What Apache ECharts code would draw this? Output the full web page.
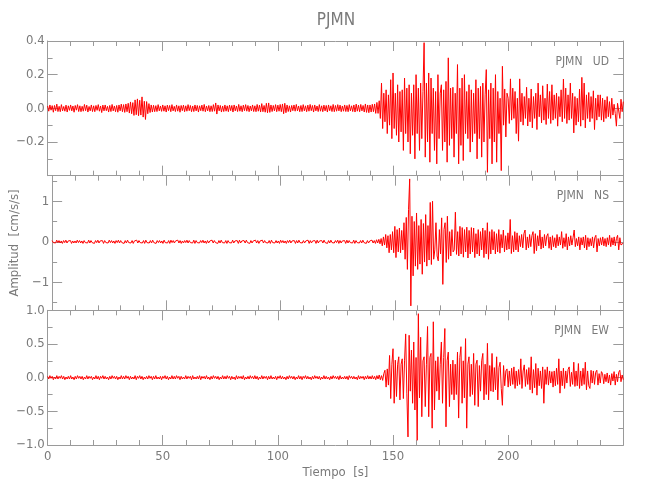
<!DOCTYPE html>
<html>
<head>
<meta charset="utf-8">
<script src="https://cdn.jsdelivr.net/npm/echarts@6/dist/echarts.min.js"></script>
<style>html,body{margin:0;padding:0;background:#fff}#c{width:650px;height:500px}</style>
</head>
<body>
<div id="c"></div>
<script>
const SAMPLE_INTERVAL_S = 0.5;

// UD component, thousandths of cm/s/s (one row = 10 s)
const udThousandths = [
14,-17,20,-11,16,-23,17,-14,25,-19,12,-20,22,-15,11,-17,19,-22,15,-12,
20,-15,14,-23,17,-11,22,-19,15,-20,12,-17,23,-14,19,-22,11,-15,20,-19,
15,-20,17,-12,22,-17,14,-25,19,-15,20,-14,12,-22,17,-19,23,-15,14,-20,
17,-23,20,-15,25,-20,22,-24,26,-20,30,-28,38,-32,34,-42,50,-38,56,-44,
48,-40,68,-52,42,-66,40,-32,28,-25,20,-22,18,-20,16,-19,22,-15,14,-18,
20,-17,15,-22,19,-14,17,-20,22,-15,12,-19,20,-17,15,-23,17,-14,19,-20,
15,-17,22,-14,17,-20,14,-19,20,-15,17,-22,15,-14,19,-17,23,-20,14,-15,
17,-20,15,-19,22,-17,32,-34,20,-15,17,-22,14,-19,20,-17,15,-20,19,-14,
17,-22,20,-15,14,-19,23,-17,15,-20,19,-14,22,-17,17,-20,14,-15,20,-19,
15,-20,23,-17,19,-22,28,-20,17,-23,30,-26,32,-24,20,-19,17,-15,22,-20,
19,-17,23,-20,26,-32,30,-26,20,-19,15,-22,17,-14,20,-17,23,-15,14,-20,
17,-19,22,-15,15,-20,19,-17,23,-14,17,-22,20,-15,14,-19,22,-17,15,-20,
19,-15,17,-22,20,-14,15,-19,23,-20,17,-17,22,-15,19,-20,14,-17,20,-19,
17,-20,22,-15,15,-19,20,-22,25,-17,19,-20,23,-15,17,-22,26,-24,20,-26,
20,-22,24,-20,26,-30,35,-30,45,-60,150,-120,90,-80,110,-150,80,-100,170,-180,
210,-120,90,-160,140,-200,100,-140,110,-250,180,-150,120,-200,140,-270,90,-160,140,-300,
200,-150,120,-250,150,-180,100,390,-290,150,-200,210,-320,180,-150,120,-250,100,-330,200,
-180,90,140,-250,110,-200,160,-320,300,-220,120,-180,125,-290,90,-150,260,-330,120,-220,
180,-310,200,-150,100,-180,140,-260,110,-200,90,-150,170,-300,120,-180,130,-290,150,-200,
80,230,-380,110,-180,150,-330,120,-200,200,-320,100,-150,60,-370,250,-100,115,-170,90,
60,-90,175,-70,120,-60,100,-150,60,-195,175,-80,90,-100,70,-60,125,-105,60,-80,
115,-116,70,-60,90,-126,150,-50,80,-86,134,-70,60,-96,144,-60,100,-90,140,-70,
80,-60,90,-106,70,-50,110,-80,174,-60,120,-90,80,-70,150,-60,90,-146,70,-100,
60,-80,114,-106,184,-70,150,-116,80,-60,94,-80,70,-60,104,-126,60,-70,80,-50,
80,-70,60,-80,50,-60,70,-50,40,-60,60,-40,24,-30,-106,30,40,-60,54,-20,
40
];

// NS component, hundredths of cm/s/s (one row = 10 s)
const nsHundredths = [
3,-2,2,-3,4,-2,3,-3,2,-4,3,-2,4,-3,2,-2,3,-4,2,-3,
2,-3,4,-2,3,-3,2,-4,3,-2,2,-3,4,-3,3,-2,2,-4,3,-2,
4,-3,2,-2,3,-4,3,-2,2,-3,4,-2,3,-3,2,-4,3,-2,4,-3,
3,-2,2,-4,3,-3,4,-2,2,-3,3,-4,2,-2,4,-3,3,-2,2,-3,
3,-4,4,-2,2,-3,3,-3,4,-2,2,-4,3,-2,3,-3,2,-4,4,-2,
2,-3,3,-4,4,-2,3,-3,2,-2,4,-3,3,-4,2,-3,3,-2,4,-3,
3,-2,2,-3,4,-4,3,-2,2,-3,3,-2,4,-3,2,-4,3,-3,2,-2,
4,-3,3,-2,2,-4,3,-3,4,-2,2,-3,3,-4,3,-2,2,-3,4,-3,
2,-2,3,-4,4,-3,2,-2,3,-3,4,-2,2,-4,3,-3,2,-2,4,-3,
3,-4,2,-2,4,-3,3,-2,2,-3,3,-4,4,-2,2,-3,3,-3,2,-4,
4,-2,3,-3,2,-4,3,-2,4,-3,2,-2,3,-4,3,-3,4,-2,2,-3,
3,-3,2,-2,4,-4,3,-3,2,-2,3,-4,4,-3,2,-2,3,-3,4,-2,
2,-4,3,-3,4,-2,2,-3,3,-2,4,-4,3,-3,2,-2,3,-4,4,-3,
3,-2,2,-3,4,-4,3,-2,2,-3,3,-3,4,-2,2,-4,3,-3,2,-2,
4,-3,3,-4,5,-3,6,-5,8,-10,12,-8,18,-15,15,-27,18,-20,25,-27,
38,-39,30,-25,34,-27,28,-20,47,-43,60,-68,79,155,-158,63,-84,50,-60,71,
-68,40,-55,55,-80,45,-50,67,-60,40,-45,97,-56,100,-43,-20,47,-35,-47,30,
-30,59,-105,30,47,-51,63,-43,25,-35,30,-25,-20,73,-31,25,-35,38,-30,35,
-38,30,-25,36,-40,28,-30,35,-25,34,-39,20,-30,30,-35,25,-20,34,-39,28,
-30,47,-43,25,-30,30,-20,25,-30,20,-25,30,-28,18,-15,29,-25,15,-20,22,
-18,55,-29,15,-25,25,-20,22,-25,15,-12,18,-15,20,29,-20,12,-15,18,-12,
15,25,-29,20,-22,15,-10,29,-18,12,-15,18,-10,14,20,-16,12,-20,15,-12,
10,-15,18,-10,12,-8,25,-16,10,-12,20,-20,12,-10,15,-8,10,29,-12,8,
-10,12,-20,10,-8,12,-15,16,-20,10,-12,8,-10,12,-15,10,16,-25,8,-10,
10,-8,12,-10,8,-12,10,-8,16,-12,10,-8,12,-10,8,16,-20,10,-8,-5,
-3
];

// EW component, hundredths of cm/s/s (one row = 10 s)
const ewHundredths = [
2,-2,3,-1,2,-3,1,-2,3,-2,2,-1,3,-2,2,-3,1,-2,2,-2,
3,-2,1,-3,2,-2,3,-1,2,-2,2,-3,1,-2,3,-2,2,-1,2,-3,
1,-2,3,-2,2,-3,2,-1,3,-2,2,-2,1,-3,2,-2,3,-1,2,-2,
2,-3,1,-2,3,-2,2,-2,3,-1,2,-3,2,-2,1,-2,3,-3,2,-1,
3,-2,2,-3,1,-2,2,-2,3,-1,2,-3,2,-2,3,-2,1,-2,2,-3,
2,-1,3,-2,2,-3,1,-2,3,-2,2,-2,3,-1,2,-3,2,-2,1,-2,
3,-2,2,-1,2,-3,3,-2,1,-2,2,-2,3,-3,2,-1,2,-2,3,-2,
1,-3,2,-2,3,-1,2,-2,2,-3,1,-2,3,-2,2,-2,3,-1,2,-3,
2,-2,1,-3,3,-2,2,-1,2,-2,3,-3,1,-2,2,-2,3,-1,2,-2,
3,-2,2,-3,1,-2,3,-2,2,-1,2,-3,2,-2,3,-2,1,-2,2,-3,
2,-1,3,-2,2,-2,1,-3,2,-2,3,-1,2,-2,2,-3,1,-2,3,-2,
2,-3,2,-1,3,-2,2,-2,1,-3,2,-2,3,-1,2,-2,2,-3,1,-2,
3,-2,2,-2,1,-3,2,-2,3,-1,2,-2,2,-3,3,-2,1,-2,2,-2,
2,-3,3,-1,2,-2,2,-2,1,-3,3,-2,2,-1,2,-3,2,-2,3,-2,
2,-2,3,-2,2,-3,3,-2,4,-3,3,-4,6,11,-14,13,-11,33,-31,20,
43,-38,26,-28,20,31,-33,20,28,-31,25,65,-23,-88,63,-20,41,-38,53,-48,
30,-93,95,-30,60,-58,25,31,-43,20,76,-58,30,36,-75,83,-48,25,-20,31,
-33,20,53,-38,30,73,-73,25,38,-43,20,-25,26,-33,20,-25,38,-60,30,46,
-38,25,-30,58,-75,20,31,-28,20,-25,36,-41,20,26,-43,18,-20,25,36,-33,
20,-25,51,-33,18,-20,36,-21,15,-18,31,-33,15,23,-16,-41,18,-12,10,13,
-14,10,-12,14,-10,16,-16,10,-12,12,-10,28,-16,10,19,-13,12,-10,15,-18,
31,-23,12,-15,21,-26,14,-12,10,-16,16,-38,12,-10,16,-11,10,-8,9,-14,
10,-12,14,-10,28,-23,10,-12,14,-16,10,-8,12,16,-13,8,-10,23,-13,10,
-12,21,-16,10,-12,14,-10,23,-18,10,-12,-16,11,-8,10,-10,8,11,-11,6,
-8,9,6,-9,5,-6,7,-8,4,-11,6,-5,9,-11,5,-6,8,11,-6,4,
-3
];

// Axis ticks and labels
const timeRange = [0, 250];
const timeTickLabelValues = [0, 50, 100, 150, 200];
const udRange = [-0.4, 0.4];
const udMajorTicks = [-0.4, -0.2, 0, 0.2, 0.4];
const udMinorTicks = [-0.3, -0.1, 0.1, 0.3];
const udLabelValues = [-0.2, 0, 0.2, 0.4];
const udLabelTexts = ['\u22120.2', '0.0', '0.2', '0.4'];
const nsRange = [-1.69, 1.63];
const nsMajorTicks = [-1, 0, 1];
const nsMinorTicks = [-1.5, -0.5, 0.5, 1.5];
const nsLabelValues = [-1, 0, 1];
const nsLabelTexts = ['\u22121', '0', '1'];
const ewRange = [-1, 1];
const ewMajorTicks = [-1, -0.5, 0, 0.5, 1];
const ewMinorTicks = [-0.75, -0.25, 0.25, 0.75];
const ewLabelValues = [-1, -0.5, 0, 0.5, 1];
const ewLabelTexts = ['\u22121.0', '\u22120.5', '0.0', '0.5', '1.0'];

const stationTitle = 'PJMN';
const panelNames = ['PJMN   UD', 'PJMN   NS', 'PJMN   EW'];
const xAxisTitle = 'Tiempo  [s]';
const yAxisTitle = 'Amplitud  [cm/s/s]';

const FONT = "'Liberation Sans Narrow','DejaVu Sans Condensed','Noto Sans',sans-serif";
const AXIS_COLOR = '#9a9a9a';
const TEXT_COLOR = '#7a7a7a';
const TRACE_COLOR = '#ff0000';

const panels = [
  {data: udThousandths, scale: 0.001, range: udRange, major: udMajorTicks, minor: udMinorTicks, lv: udLabelValues, lt: udLabelTexts},
  {data: nsHundredths, scale: 0.01, range: nsRange, major: nsMajorTicks, minor: nsMinorTicks, lv: nsLabelValues, lt: nsLabelTexts},
  {data: ewHundredths, scale: 0.01, range: ewRange, major: ewMajorTicks, minor: ewMinorTicks, lv: ewLabelValues, lt: ewLabelTexts}
];

const PLOT_LEFT = 47.6, PLOT_WIDTH = 575.7, PLOT_TOP = 41, PANEL_H = 134.67;

const grids = [], xAxes = [], yAxes = [], series = [];
panels.forEach((p, g) => {
  grids.push({left: PLOT_LEFT, width: PLOT_WIDTH, top: PLOT_TOP + g * PANEL_H, height: PANEL_H, containLabel: false});
  ['bottom', 'top'].forEach(pos => {
    const showLabels = (g === 2 && pos === 'bottom');
    xAxes.push({
      type: 'value', gridIndex: g, position: pos, min: timeRange[0], max: timeRange[1], interval: 50,
      axisLine: {show: true, onZero: false, lineStyle: {color: AXIS_COLOR, width: 1}},
      axisTick: {show: true, inside: true, length: 10, lineStyle: {color: AXIS_COLOR, width: 1}},
      minorTick: {show: true, splitNumber: 5, length: 5, lineStyle: {color: AXIS_COLOR, width: 1}},
      splitLine: {show: false}, minorSplitLine: {show: false},
      axisLabel: showLabels ? {show: true, customValues: timeTickLabelValues, margin: 5, color: TEXT_COLOR, fontFamily: FONT, fontSize: 13} : {show: false},
      name: showLabels ? xAxisTitle : '', nameLocation: 'middle', nameGap: 21,
      nameTextStyle: {color: TEXT_COLOR, fontFamily: FONT, fontSize: 13}
    });
  });
  const fmt = v => { const i = p.lv.findIndex(x => Math.abs(x - v) < 1e-9); return i >= 0 ? p.lt[i] : ''; };
  ['left', 'right'].forEach(pos => {
    const isLeft = pos === 'left';
    yAxes.push({
      type: 'value', gridIndex: g, position: pos, min: p.range[0], max: p.range[1],
      axisLine: {show: true, onZero: false, lineStyle: {color: AXIS_COLOR, width: 1}},
      axisTick: {show: true, inside: true, length: 10, customValues: p.major, lineStyle: {color: AXIS_COLOR, width: 1}},
      splitLine: {show: false},
      axisLabel: isLeft ? {show: true, customValues: p.lv, formatter: fmt, margin: 3, color: TEXT_COLOR, fontFamily: FONT, fontSize: 13, showMinLabel: true, showMaxLabel: true} : {show: false},
      name: (isLeft && g === 1) ? yAxisTitle : '', nameLocation: 'middle', nameGap: 27,
      nameTextStyle: {color: TEXT_COLOR, fontFamily: FONT, fontSize: 13}
    });
  });
  ['left', 'right'].forEach(pos => {
    yAxes.push({
      type: 'value', gridIndex: g, position: pos, min: p.range[0], max: p.range[1],
      axisLine: {show: false, onZero: false},
      axisTick: {show: true, inside: true, length: 5, customValues: p.minor, lineStyle: {color: AXIS_COLOR, width: 1}},
      splitLine: {show: false}, axisLabel: {show: false}
    });
  });
  series.push({
    type: 'line', xAxisIndex: g * 2, yAxisIndex: g * 4,
    data: p.data.map((v, i) => [i * SAMPLE_INTERVAL_S, v * p.scale]),
    showSymbol: false, symbol: 'none', silent: true, clip: true,
    lineStyle: {color: TRACE_COLOR, width: 1}, itemStyle: {color: TRACE_COLOR}
  });
});

const chart = echarts.init(document.getElementById('c'), null, {renderer: 'canvas'});
chart.setOption({
  backgroundColor: '#ffffff',
  animation: false,
  title: [
    {text: stationTitle, left: 336, top: 12, textAlign: 'center', padding: 0,
     textStyle: {fontFamily: FONT, fontSize: 17, fontWeight: 'normal', color: TEXT_COLOR}},
    {text: panelNames[0], right: 41, top: 56, padding: 0, textStyle: {fontFamily: FONT, fontSize: 12, fontWeight: 'normal', color: TEXT_COLOR}},
    {text: panelNames[1], right: 41, top: 190, padding: 0, textStyle: {fontFamily: FONT, fontSize: 12, fontWeight: 'normal', color: TEXT_COLOR}},
    {text: panelNames[2], right: 41, top: 325, padding: 0, textStyle: {fontFamily: FONT, fontSize: 12, fontWeight: 'normal', color: TEXT_COLOR}}
  ],
  grid: grids, xAxis: xAxes, yAxis: yAxes, series: series
});
</script>
</body>
</html>
